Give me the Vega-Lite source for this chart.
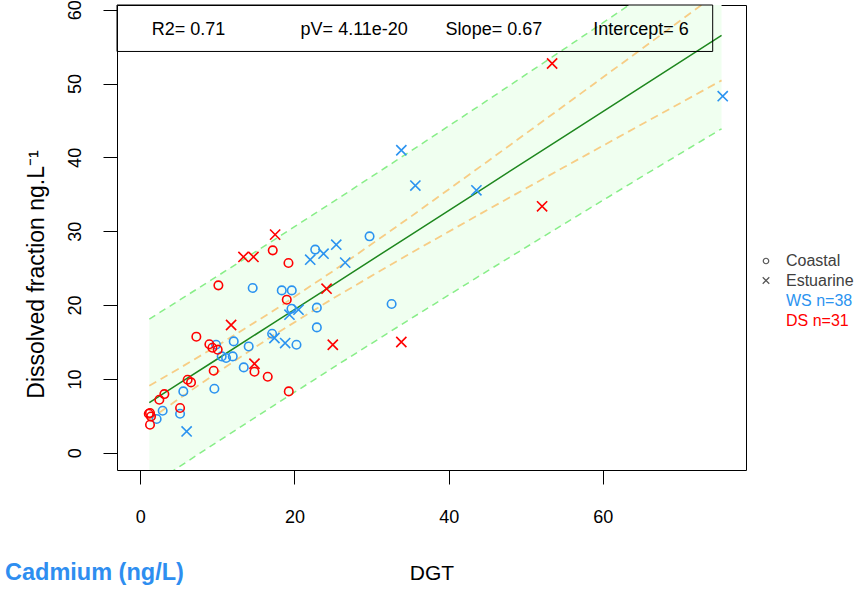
{
  "$schema": "https://vega.github.io/schema/vega-lite/v6.json",
  "width": 629,
  "height": 465,
  "autosize": {"type": "none"},
  "padding": {"left": 117, "top": 5, "right": 108, "bottom": 119},
  "background": "white",
  "config": {
    "view": {"stroke": "black", "strokeWidth": 1},
    "font": "Liberation Sans",
    "axis": {"domain": false, "grid": false, "tickColor": "black", "tickSize": 14, "tickWidth": 1, "labelFont": "Liberation Sans", "labelFontSize": 18, "labelColor": "black", "titleColor": "black", "titleFontWeight": "normal", "titleFont": "Liberation Sans"},
    "legend": {"padding": 0, "labelFont": "Liberation Sans", "labelFontSize": 16, "symbolSize": 30, "rowPadding": 3.5, "labelOffset": 12, "title": null}
  },
  "title": {"text": "Cadmium (ng/L)", "orient": "bottom", "anchor": "start", "frame": "group", "dx": -112, "offset": -22, "color": "#2E8EF0", "fontSize": 23.5, "fontWeight": "bold", "font": "Liberation Sans"},
  "datasets": {
    "bands": [
      {"x": 1.17, "pl": -4.54, "cl": 4.48, "fit": 6.78, "cu": 9.08, "pu": 18.10},
      {"x": 5, "pl": -1.92, "cl": 7.30, "fit": 9.35, "cu": 11.40, "pu": 20.62},
      {"x": 10, "pl": 1.48, "cl": 10.89, "fit": 12.70, "cu": 14.51, "pu": 23.92},
      {"x": 17, "pl": 6.19, "cl": 15.73, "fit": 17.39, "cu": 19.05, "pu": 28.59},
      {"x": 25, "pl": 11.52, "cl": 20.90, "fit": 22.75, "cu": 24.60, "pu": 33.98},
      {"x": 35, "pl": 18.10, "cl": 26.99, "fit": 29.45, "cu": 31.91, "pu": 40.80},
      {"x": 45, "pl": 24.60, "cl": 32.88, "fit": 36.15, "cu": 39.42, "pu": 47.70},
      {"x": 55, "pl": 31.01, "cl": 38.69, "fit": 42.85, "cu": 47.01, "pu": 54.69},
      {"x": 65, "pl": 37.35, "cl": 44.45, "fit": 49.55, "cu": 54.65, "pu": 61.75},
      {"x": 75.4, "pl": 43.87, "cl": 50.42, "fit": 56.52, "cu": 62.62, "pu": 69.17}
    ],
    "stats": [
      {"label": "R2= 0.71", "x": 6.26, "y": 57.25},
      {"label": "pV= 4.11e-20", "x": 27.75, "y": 57.25},
      {"label": "Slope= 0.67", "x": 45.87, "y": 57.25},
      {"label": "Intercept= 6", "x": 64.96, "y": 57.25}
    ],
    "statbox": [{"x1": -3.022, "x2": 74.25, "y1": 54.34, "y2": 60.63}],
    "pts": [
      {"dgt": 33.86, "dis": 40.96, "s": "WS", "t": "Estuarine"},
      {"dgt": 35.68, "dis": 36.18, "s": "WS", "t": "Estuarine"},
      {"dgt": 43.60, "dis": 35.54, "s": "WS", "t": "Estuarine"},
      {"dgt": 75.55, "dis": 48.28, "s": "WS", "t": "Estuarine"},
      {"dgt": 25.42, "dis": 28.18, "s": "WS", "t": "Estuarine"},
      {"dgt": 23.77, "dis": 26.96, "s": "WS", "t": "Estuarine"},
      {"dgt": 22.04, "dis": 26.15, "s": "WS", "t": "Estuarine"},
      {"dgt": 26.58, "dis": 25.75, "s": "WS", "t": "Estuarine"},
      {"dgt": 19.35, "dis": 18.70, "s": "WS", "t": "Estuarine"},
      {"dgt": 20.52, "dis": 19.38, "s": "WS", "t": "Estuarine"},
      {"dgt": 17.40, "dis": 15.54, "s": "WS", "t": "Estuarine"},
      {"dgt": 18.79, "dis": 14.86, "s": "WS", "t": "Estuarine"},
      {"dgt": 6.01, "dis": 2.89, "s": "WS", "t": "Estuarine"},
      {"dgt": 29.74, "dis": 29.31, "s": "WS", "t": "Coastal"},
      {"dgt": 22.69, "dis": 27.51, "s": "WS", "t": "Coastal"},
      {"dgt": 14.58, "dis": 22.32, "s": "WS", "t": "Coastal"},
      {"dgt": 18.35, "dis": 21.99, "s": "WS", "t": "Coastal"},
      {"dgt": 19.65, "dis": 21.99, "s": "WS", "t": "Coastal"},
      {"dgt": 19.61, "dis": 19.51, "s": "WS", "t": "Coastal"},
      {"dgt": 22.90, "dis": 19.65, "s": "WS", "t": "Coastal"},
      {"dgt": 32.60, "dis": 20.15, "s": "WS", "t": "Coastal"},
      {"dgt": 22.90, "dis": 16.98, "s": "WS", "t": "Coastal"},
      {"dgt": 17.10, "dis": 16.12, "s": "WS", "t": "Coastal"},
      {"dgt": 20.26, "dis": 14.63, "s": "WS", "t": "Coastal"},
      {"dgt": 12.12, "dis": 15.08, "s": "WS", "t": "Coastal"},
      {"dgt": 14.06, "dis": 14.40, "s": "WS", "t": "Coastal"},
      {"dgt": 10.56, "dis": 13.05, "s": "WS", "t": "Coastal"},
      {"dgt": 11.13, "dis": 12.83, "s": "WS", "t": "Coastal"},
      {"dgt": 11.99, "dis": 13.05, "s": "WS", "t": "Coastal"},
      {"dgt": 13.42, "dis": 11.56, "s": "WS", "t": "Coastal"},
      {"dgt": 9.61, "dis": 8.67, "s": "WS", "t": "Coastal"},
      {"dgt": 5.58, "dis": 8.31, "s": "WS", "t": "Coastal"},
      {"dgt": 5.16, "dis": 5.28, "s": "WS", "t": "Coastal"},
      {"dgt": 2.90, "dis": 5.69, "s": "WS", "t": "Coastal"},
      {"dgt": 2.12, "dis": 4.57, "s": "WS", "t": "Coastal"},
      {"dgt": 9.83, "dis": 14.63, "s": "WS", "t": "Coastal"},
      {"dgt": 53.42, "dis": 52.71, "s": "DS", "t": "Estuarine"},
      {"dgt": 52.12, "dis": 33.37, "s": "DS", "t": "Estuarine"},
      {"dgt": 17.49, "dis": 29.54, "s": "DS", "t": "Estuarine"},
      {"dgt": 13.38, "dis": 26.52, "s": "DS", "t": "Estuarine"},
      {"dgt": 14.68, "dis": 26.52, "s": "DS", "t": "Estuarine"},
      {"dgt": 24.16, "dis": 22.22, "s": "DS", "t": "Estuarine"},
      {"dgt": 11.78, "dis": 17.30, "s": "DS", "t": "Estuarine"},
      {"dgt": 14.81, "dis": 12.06, "s": "DS", "t": "Estuarine"},
      {"dgt": 24.97, "dis": 14.63, "s": "DS", "t": "Estuarine"},
      {"dgt": 33.86, "dis": 15.00, "s": "DS", "t": "Estuarine"},
      {"dgt": 17.18, "dis": 27.41, "s": "DS", "t": "Coastal"},
      {"dgt": 19.22, "dis": 25.70, "s": "DS", "t": "Coastal"},
      {"dgt": 10.13, "dis": 22.67, "s": "DS", "t": "Coastal"},
      {"dgt": 19.00, "dis": 20.73, "s": "DS", "t": "Coastal"},
      {"dgt": 7.27, "dis": 15.72, "s": "DS", "t": "Coastal"},
      {"dgt": 8.96, "dis": 14.70, "s": "DS", "t": "Coastal"},
      {"dgt": 9.35, "dis": 14.23, "s": "DS", "t": "Coastal"},
      {"dgt": 10.04, "dis": 13.96, "s": "DS", "t": "Coastal"},
      {"dgt": 14.81, "dis": 10.98, "s": "DS", "t": "Coastal"},
      {"dgt": 16.53, "dis": 10.30, "s": "DS", "t": "Coastal"},
      {"dgt": 9.52, "dis": 11.11, "s": "DS", "t": "Coastal"},
      {"dgt": 6.14, "dis": 9.89, "s": "DS", "t": "Coastal"},
      {"dgt": 6.58, "dis": 9.53, "s": "DS", "t": "Coastal"},
      {"dgt": 19.26, "dis": 8.31, "s": "DS", "t": "Coastal"},
      {"dgt": 3.12, "dis": 7.95, "s": "DS", "t": "Coastal"},
      {"dgt": 2.47, "dis": 7.18, "s": "DS", "t": "Coastal"},
      {"dgt": 5.16, "dis": 6.06, "s": "DS", "t": "Coastal"},
      {"dgt": 1.26, "dis": 5.38, "s": "DS", "t": "Coastal"},
      {"dgt": 1.39, "dis": 4.92, "s": "DS", "t": "Coastal"},
      {"dgt": 1.26, "dis": 3.79, "s": "DS", "t": "Coastal"},
      {"dgt": 1.10, "dis": 5.28, "s": "DS", "t": "Coastal"}
    ]
  },
  "layer": [
    {
      "data": {"name": "bands"},
      "mark": {"type": "area", "color": "#F0FFF0", "opacity": 1, "clip": true},
      "encoding": {
        "x": {"field": "x", "type": "quantitative", "title": "DGT",
              "scale": {"domain": [-3.022, 78.57], "nice": false, "zero": false},
              "axis": {"values": [0, 20, 40, 60], "labelPadding": 24, "titleFontSize": 21, "titleX": 314.5, "titleY": 103, "titleBaseline": "middle", "titleAlign": "center"}},
        "y": {"field": "pl", "type": "quantitative", "title": "Dissolved fraction ng.L⁻¹",
              "scale": {"domain": [-2.33, 60.63], "nice": false, "zero": false},
              "axis": {"values": [0, 10, 20, 30, 40, 50, 60], "labelAngle": -90, "labelAlign": "center", "labelBaseline": "bottom", "labelPadding": 19, "titleFontSize": 23, "titleX": -81, "titleY": 269, "titleAngle": -90, "titleBaseline": "middle", "titleAlign": "center"}},
        "y2": {"field": "pu"}
      }
    },
    {
      "data": {"name": "bands"},
      "mark": {"type": "line", "color": "#88EE88", "strokeWidth": 1.5, "strokeDash": [7, 5], "clip": true},
      "encoding": {
        "x": {"field": "x", "type": "quantitative", "title": "DGT"},
        "y": {"field": "pu", "type": "quantitative", "title": "Dissolved fraction ng.L⁻¹"}
      }
    },
    {
      "data": {"name": "bands"},
      "mark": {"type": "line", "color": "#88EE88", "strokeWidth": 1.5, "strokeDash": [7, 5], "clip": true},
      "encoding": {
        "x": {"field": "x", "type": "quantitative", "title": "DGT"},
        "y": {"field": "pl", "type": "quantitative", "title": "Dissolved fraction ng.L⁻¹"}
      }
    },
    {
      "data": {"name": "bands"},
      "mark": {"type": "line", "color": "#F7CD85", "strokeWidth": 1.8, "strokeDash": [8, 5], "clip": true},
      "encoding": {
        "x": {"field": "x", "type": "quantitative", "title": "DGT"},
        "y": {"field": "cu", "type": "quantitative", "title": "Dissolved fraction ng.L⁻¹"}
      }
    },
    {
      "data": {"name": "bands"},
      "mark": {"type": "line", "color": "#F7CD85", "strokeWidth": 1.8, "strokeDash": [8, 5], "clip": true},
      "encoding": {
        "x": {"field": "x", "type": "quantitative", "title": "DGT"},
        "y": {"field": "cl", "type": "quantitative", "title": "Dissolved fraction ng.L⁻¹"}
      }
    },
    {
      "data": {"name": "bands"},
      "mark": {"type": "line", "color": "#1E871E", "strokeWidth": 1.5, "clip": true},
      "encoding": {
        "x": {"field": "x", "type": "quantitative", "title": "DGT"},
        "y": {"field": "fit", "type": "quantitative", "title": "Dissolved fraction ng.L⁻¹"}
      }
    },
    {
      "data": {"name": "statbox"},
      "mark": {"type": "rect", "fill": null, "fillOpacity": 0, "stroke": "black", "strokeWidth": 1},
      "encoding": {
        "x": {"field": "x1", "type": "quantitative", "title": "DGT"},
        "x2": {"field": "x2"},
        "y": {"field": "y1", "type": "quantitative", "title": "Dissolved fraction ng.L⁻¹"},
        "y2": {"field": "y2"}
      }
    },
    {
      "data": {"name": "stats"},
      "mark": {"type": "text", "fontSize": 18, "font": "Liberation Sans", "color": "black", "align": "center", "baseline": "middle"},
      "encoding": {
        "x": {"field": "x", "type": "quantitative", "title": "DGT"},
        "y": {"field": "y", "type": "quantitative", "title": "Dissolved fraction ng.L⁻¹"},
        "text": {"field": "label"}
      }
    },
    {
      "data": {"name": "pts"},
      "mark": {"type": "point", "filled": false, "strokeWidth": 1.6, "size": 72, "opacity": 1},
      "encoding": {
        "x": {"field": "dgt", "type": "quantitative", "title": "DGT"},
        "y": {"field": "dis", "type": "quantitative", "title": "Dissolved fraction ng.L⁻¹"},
        "shape": {"field": "t", "type": "nominal",
                  "scale": {"domain": ["Coastal", "Estuarine"], "range": ["circle", "M-1.2,-1.2L1.2,1.2M-1.2,1.2L1.2,-1.2"]},
                  "legend": {"orient": "none", "legendX": 641, "legendY": 248, "labelColor": "#404040", "symbolStrokeColor": "#555555", "symbolStrokeWidth": 1.2, "symbolFillColor": "transparent"}},
        "color": {"field": "s", "type": "nominal",
                  "scale": {"domain": ["WS", "DS"], "range": ["#2B93F0", "#FF0000"]},
                  "legend": {"orient": "none", "legendX": 641, "legendY": 288, "symbolOpacity": 0,
                             "labelExpr": "datum.label == 'WS' ? 'WS n=38' : 'DS n=31'",
                             "labelColor": {"expr": "datum.value == 'WS' ? '#2B93F0' : '#FF0000'"}}}
      }
    }
  ]
}
